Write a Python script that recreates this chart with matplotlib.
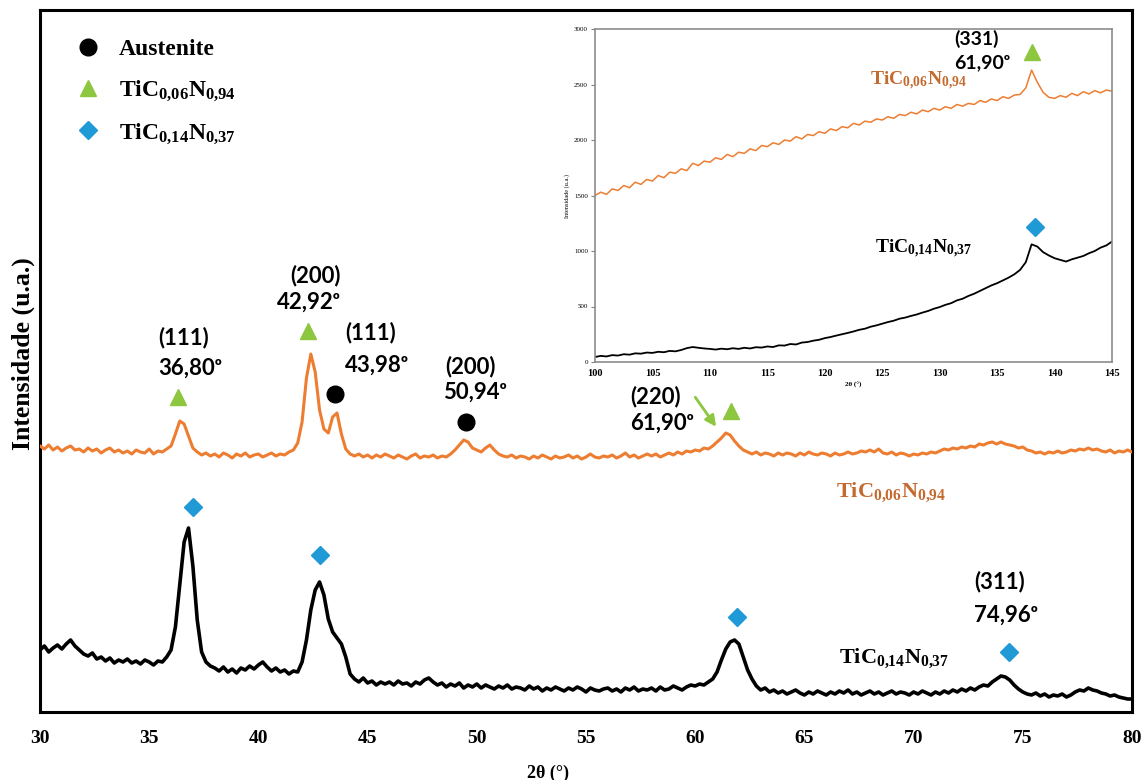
import numpy as np
import matplotlib
matplotlib.use("Agg")
import matplotlib.pyplot as plt
from matplotlib.lines import Line2D

# ---------------------------------------------------------------- data
# Main pattern: 2-theta from 30 to 80 deg in 0.2 deg steps (arbitrary units)
two_theta = np.round(np.arange(30.0, 80.0001, 0.2), 1)

tin_006 = [  # TiC0,06N0,94 (vertically offset)
    266, 263, 267, 262, 265, 261, 264, 266, 262, 263,
    260, 264, 261, 263, 259, 262, 264, 260, 262, 259,
    261, 258, 262, 260, 259, 263, 258, 261, 260, 263,
    266, 278, 291, 288, 276, 264, 260, 257, 259, 256,
    258, 255, 259, 257, 254, 258, 256, 259, 255, 257,
    258, 255, 257, 259, 256, 258, 257, 260, 262, 269,
    290, 334, 358, 340, 302, 283, 279, 295, 299, 278,
    263, 258, 256, 258, 255, 257, 254, 257, 255, 258,
    256, 254, 257, 255, 253, 256, 258, 254, 256, 255,
    257, 254, 256, 255, 258, 262, 267, 272, 270, 264,
    262, 260, 264, 267, 262, 258, 256, 255, 257, 254,
    256, 255, 253, 256, 254, 257, 255, 253, 256, 254,
    255, 257, 254, 256, 253, 255, 258, 255, 254, 256,
    255, 257, 254, 256, 259, 255, 257, 254, 256, 258,
    256, 258, 255, 257, 259, 257, 260, 258, 261, 260,
    262, 261, 264, 263, 266, 270, 274, 279, 277, 271,
    266, 262, 260, 258, 260, 257, 259, 258, 256, 259,
    257, 259, 258, 256, 259, 257, 260, 258, 257, 259,
    258, 256, 259, 257, 258, 260, 258, 259, 261, 260,
    262, 260, 263, 259, 258, 260, 257, 259, 258, 256,
    258, 257, 259, 258, 260, 259, 261, 263, 262, 264,
    263, 265, 264, 266, 265, 268, 267, 269, 270, 268,
    270, 268, 267, 266, 264, 265, 262, 261, 259, 260,
    258, 260, 259, 261, 259, 260, 262, 261, 263, 262,
    264, 262, 263, 261, 260, 262, 259, 261, 260, 262,
    260,
]

tin_014 = [  # TiC0,14N0,37
    62, 66, 60, 64, 67, 63, 68, 72, 66, 62,
    58, 56, 59, 53, 55, 51, 54, 49, 52, 50,
    53, 49, 51, 48, 52, 50, 47, 51, 50, 55,
    62, 85, 128, 170, 184, 146, 92, 60, 50, 46,
    44, 41, 45, 40, 43, 39, 44, 42, 46, 43,
    47, 50, 45, 41, 44, 40, 42, 38, 41, 40,
    50, 72, 102, 122, 130, 117, 93, 80, 74, 68,
    55, 38, 33, 30, 34, 29, 31, 27, 30, 28,
    30, 27, 31, 28, 29, 26, 30, 28, 32, 34,
    30, 27, 29, 25, 28, 26, 29, 24, 27, 25,
    28, 24, 27, 25, 23, 26, 24, 27, 23, 25,
    24, 22, 26, 23, 25, 21, 24, 22, 25, 23,
    21, 24, 22, 25, 23, 20, 24, 22, 21, 23,
    24, 21, 23, 20, 24, 22, 25, 21, 23, 22,
    24, 21, 25, 22, 23, 26, 24, 22, 25, 27,
    26, 28, 27, 30, 33, 40, 52, 63, 70, 72,
    68, 55, 42, 33, 26, 22, 24, 20, 22, 19,
    21, 18, 20, 22, 19, 17, 20, 18, 21, 19,
    17, 20, 18, 21, 19, 22, 18, 20, 17, 19,
    21, 18, 20, 17, 19, 21, 18, 20, 19, 17,
    20, 18, 21, 19, 17, 20, 18, 21, 19, 22,
    20, 23, 21, 24, 22, 25, 27, 26, 30, 33,
    36, 35, 32, 27, 23, 20, 18, 17, 19, 16,
    18, 15, 17, 16, 18, 15, 17, 20, 22, 21,
    24, 22, 21, 19, 18, 16, 17, 15, 14, 13,
    13,
]

# Phase markers on the main pattern (2-theta, height)
austenite_pos = [43.52, 49.52]
austenite_h = [318, 290]
tin006_pos = [36.32, 42.28, 61.62]
tin006_h = [315, 381, 301]
tin014_pos = [37.0, 42.83, 61.9, 74.36]
tin014_h = [205, 157, 95, 60]

# Peak labels: (text, 2-theta, height)
peak_labels = [
    ("(111)", 35.41, 374), ("36,80ᵒ", 35.41, 344),
    ("(200)", 41.46, 436), ("42,92ᵒ", 40.86, 410),
    ("(111)", 43.98, 379), ("43,98ᵒ", 43.98, 347),
    ("(200)", 48.56, 345), ("50,94ᵒ", 48.47, 320),
    ("(220)", 57.04, 315), ("61,90ᵒ", 57.04, 289),
    ("(311)", 72.76, 130), ("74,96ᵒ", 72.76, 97),
]

# High-angle detail (100-145 deg, 0.5 deg steps, counts)
two_theta_hi = np.round(np.arange(100.0, 145.0001, 0.5), 1)
hi_006 = [
    1500, 1530, 1510, 1560, 1545, 1590, 1570, 1620, 1600, 1645,
    1630, 1680, 1660, 1710, 1700, 1740, 1725, 1790, 1770, 1810,
    1800, 1840, 1825, 1870, 1850, 1890, 1880, 1920, 1905, 1950,
    1940, 1975, 1960, 2000, 1990, 2030, 2010, 2050, 2040, 2075,
    2060, 2100, 2085, 2120, 2110, 2150, 2135, 2170, 2160, 2190,
    2180, 2210, 2195, 2230, 2220, 2250, 2235, 2270, 2255, 2285,
    2270, 2300, 2285, 2320, 2305, 2330, 2320, 2355, 2340, 2370,
    2355, 2390, 2375, 2405, 2410, 2470, 2630, 2520, 2430, 2385,
    2375, 2400, 2385, 2420, 2400, 2435, 2415, 2445, 2425, 2450,
    2440,
]
hi_014 = [
    45, 55, 50, 62, 58, 70, 66, 78, 75, 85,
    82, 92, 88, 100, 96, 108, 125, 135, 128, 122,
    118, 112, 120, 115, 124, 118, 128, 122, 133, 130,
    140, 135, 150, 148, 162, 158, 175, 180, 192, 200,
    215, 225, 238, 250, 262, 275, 290, 300, 318, 330,
    345, 360, 372, 390, 400, 415, 428, 445, 460, 480,
    495, 515, 530, 555, 570, 595, 615, 640, 665, 690,
    710, 735, 760, 790, 830, 900, 1060, 1040, 990, 960,
    935, 920, 905, 925, 940, 955, 980, 1000, 1030, 1050,
    1085,
]
hi_tin006_pos, hi_tin006_h = [138.0], [2790]
hi_tin014_pos, hi_tin014_h = [138.3], [1218]
hi_labels = [("(331)", 131.3, 2909), ("61,90ᵒ", 131.3, 2700)]

# ---------------------------------------------------------------- style
ORANGE = "#ED7D31"
ORANGE_TXT = "#C46A2E"
GREEN = "#8DC63F"
BLUE = "#1F9AD6"
SERIF = "Liberation Serif"
SANS = ["Lato", "DejaVu Sans"]

plt.rcParams["font.family"] = SERIF
plt.rcParams["mathtext.fontset"] = "custom"
plt.rcParams["mathtext.rm"] = "Liberation Serif:bold"
plt.rcParams["mathtext.it"] = "Liberation Serif:bold"
plt.rcParams["mathtext.bf"] = "Liberation Serif:bold"

NAME_006 = "TiC$_{0{,}06}$N$_{0{,}94}$"
NAME_014 = "TiC$_{0{,}14}$N$_{0{,}37}$"

fig = plt.figure(figsize=(11.48, 7.8), dpi=100)
ax = fig.add_axes([40 / 1148, 68 / 780, 1092 / 1148, 702 / 780])

ax.plot(two_theta, tin_006, color=ORANGE, lw=2.2, zorder=3)
ax.plot(two_theta, tin_014, color="black", lw=2.6, zorder=3)

ax.plot(austenite_pos, austenite_h, ls="", marker="o", ms=12, color="black", zorder=4)
ax.plot(tin006_pos, tin006_h, ls="", marker="^", ms=12, color=GREEN, zorder=4)
ax.plot(tin014_pos, tin014_h, ls="", marker="D", ms=9.5, color=BLUE, zorder=4)

for txt, x, y in peak_labels:
    ax.text(x, y, txt, ha="left", va="center", fontsize=16,
            fontweight="bold", family=SANS, color="black")

ax.annotate("", xy=(61.03, 283), xytext=(59.93, 317),
            arrowprops=dict(arrowstyle="-|>", color=GREEN, lw=2,
                            mutation_scale=16))

ax.text(66.43, 220, NAME_006, color=ORANGE_TXT, fontsize=16,
        fontweight="bold", ha="left", va="center")
ax.text(66.57, 54, NAME_014, color="black", fontsize=16,
        fontweight="bold", ha="left", va="center")

ax.set_xlim(30, 80)
ax.set_ylim(0, 702)
ax.set_xticks(np.arange(30, 81, 5))
ax.set_yticks([])
ax.tick_params(axis="x", length=0, pad=13, labelsize=14)
for lab in ax.get_xticklabels():
    lab.set_fontweight("bold")
for sp in ax.spines.values():
    sp.set_linewidth(2.2)
    sp.set_color("black")
ax.set_xlabel("2θ (°)", fontsize=13, fontweight="bold")
ax.xaxis.set_label_coords(0.465, -0.075)
ax.set_ylabel("Intensidade (u.a.)", fontsize=18.5, fontweight="bold")
ax.yaxis.set_label_coords(-0.005, 0.51)

handles = [
    Line2D([], [], ls="", marker="o", ms=12, color="black"),
    Line2D([], [], ls="", marker="^", ms=12, color=GREEN),
    Line2D([], [], ls="", marker="D", ms=9.5, color=BLUE),
]
ax.legend(handles, ["Austenite", NAME_006, NAME_014], loc="upper left",
          bbox_to_anchor=(0.033, 0.959), frameon=False, borderpad=0,
          borderaxespad=0, handlelength=1.0, handletextpad=0.8,
          labelspacing=0.8, prop={"family": SERIF, "weight": "bold", "size": 17})

# ---------------------------------------------------------------- inset
ins = fig.add_axes([595 / 1148, 418 / 780, 517 / 1148, 333 / 780])
ins.plot(two_theta_hi, hi_006, color=ORANGE, lw=1.1)
ins.plot(two_theta_hi, hi_014, color="black", lw=1.3)
ins.plot(hi_tin006_pos, hi_tin006_h, ls="", marker="^", ms=11, color=GREEN)
ins.plot(hi_tin014_pos, hi_tin014_h, ls="", marker="D", ms=9, color=BLUE)
for txt, x, y in hi_labels:
    ins.text(x, y, txt, ha="left", va="center", fontsize=14,
             fontweight="bold", family=SANS, color="black")
ins.text(123.9, 2536, NAME_006, color=ORANGE_TXT, fontsize=14,
         fontweight="bold", ha="left", va="center")
ins.text(124.4, 1018, NAME_014, color="black", fontsize=14,
         fontweight="bold", ha="left", va="center")
ins.set_xlim(100, 145)
ins.set_ylim(0, 3000)
ins.set_xticks(np.arange(100, 146, 5))
ins.set_yticks(np.arange(0, 3001, 500))
ins.tick_params(axis="x", length=0, pad=5, labelsize=7.5)
ins.tick_params(axis="y", length=3, width=0.8, pad=2, labelsize=5, color="#808080")
for lab in ins.get_xticklabels():
    lab.set_fontweight("bold")
for sp in ins.spines.values():
    sp.set_color("#8c8c8c")
    sp.set_linewidth(1.2)
ins.set_xlabel("2θ (°)", fontsize=5, fontweight="bold", labelpad=3)
ins.set_ylabel("Intensidade (u.a.)", fontsize=4.5, labelpad=3)

fig.savefig("out.png", dpi=100, facecolor="white")
